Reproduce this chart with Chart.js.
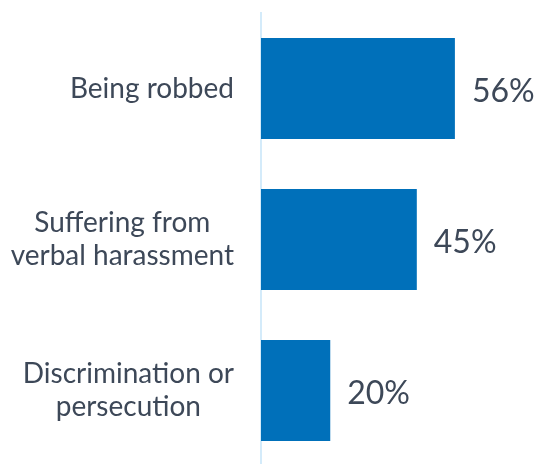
<!DOCTYPE html>
<html>
<head>
<meta charset="utf-8">
<script src="https://cdn.jsdelivr.net/npm/chart.js@4"></script>
<style>
  html, body { margin: 0; padding: 0; background: #ffffff; overflow: hidden; }
  #wrap { position: relative; width: 541px; height: 466px; }
</style>
</head>
<body>
<div id="wrap"><canvas id="c"></canvas></div>
<script>
const categories = [
  ['Being robbed'],
  ['Suffering from', 'verbal harassment'],
  ['Discrimination or', 'persecution']
];
const values = [56, 45, 20];
const valueSuffix = '%';

const textColor = '#3d4858';
const barColor = '#0070ba';
const axisColor = '#d4ebfa';

// Category names: each block sits right-aligned against the axis,
// with its lines centred on one another.
const categoryLabels = {
  id: 'categoryLabels',
  afterDraw(chart) {
    const ctx = chart.ctx;
    const yScale = chart.scales.y;
    const right = yScale.right - 27;
    const lineHeight = 33;
    ctx.save();
    ctx.font = '28px Lato';
    ctx.fillStyle = textColor;
    ctx.textAlign = 'center';
    ctx.textBaseline = 'middle';
    categories.forEach((lines, i) => {
      const y = yScale.getPixelForTick(i);
      const width = Math.max(...lines.map(l => ctx.measureText(l).width));
      const cx = right - width / 2;
      lines.forEach((line, j) => {
        ctx.fillText(line, cx, y + (j - (lines.length - 1) / 2) * lineHeight);
      });
    });
    ctx.restore();
  }
};

// Writes each bar's value just beyond its end.
const valueLabels = {
  id: 'valueLabels',
  afterDatasetsDraw(chart) {
    const ctx = chart.ctx;
    const meta = chart.getDatasetMeta(0);
    ctx.save();
    ctx.font = '32px Lato';
    ctx.fillStyle = textColor;
    ctx.textAlign = 'left';
    ctx.textBaseline = 'middle';
    meta.data.forEach((bar, i) => {
      ctx.fillText(values[i] + valueSuffix, bar.x + 17, bar.y + 3);
    });
    ctx.restore();
  }
};

new Chart(document.getElementById('c'), {
  type: 'bar',
  data: {
    labels: categories,
    datasets: [{
      data: values,
      backgroundColor: barColor,
      borderWidth: 0,
      barPercentage: 1,
      categoryPercentage: 0.67
    }]
  },
  options: {
    indexAxis: 'y',
    responsive: true,
    maintainAspectRatio: false,
    animation: false,
    layout: { padding: { top: 13, bottom: 0, left: 0, right: 3 } },
    plugins: { legend: { display: false }, tooltip: { enabled: false } },
    scales: {
      x: { display: false, min: 0, max: 80 },
      y: {
        afterFit(scale) {
          scale.width = 261;
          scale.paddingTop = 0;
          scale.paddingBottom = 0;
        },
        grid: { display: false, drawTicks: false },
        border: { display: true, color: axisColor, width: 2 },
        ticks: { display: false }
      }
    }
  },
  plugins: [valueLabels, categoryLabels]
});
</script>
</body>
</html>
